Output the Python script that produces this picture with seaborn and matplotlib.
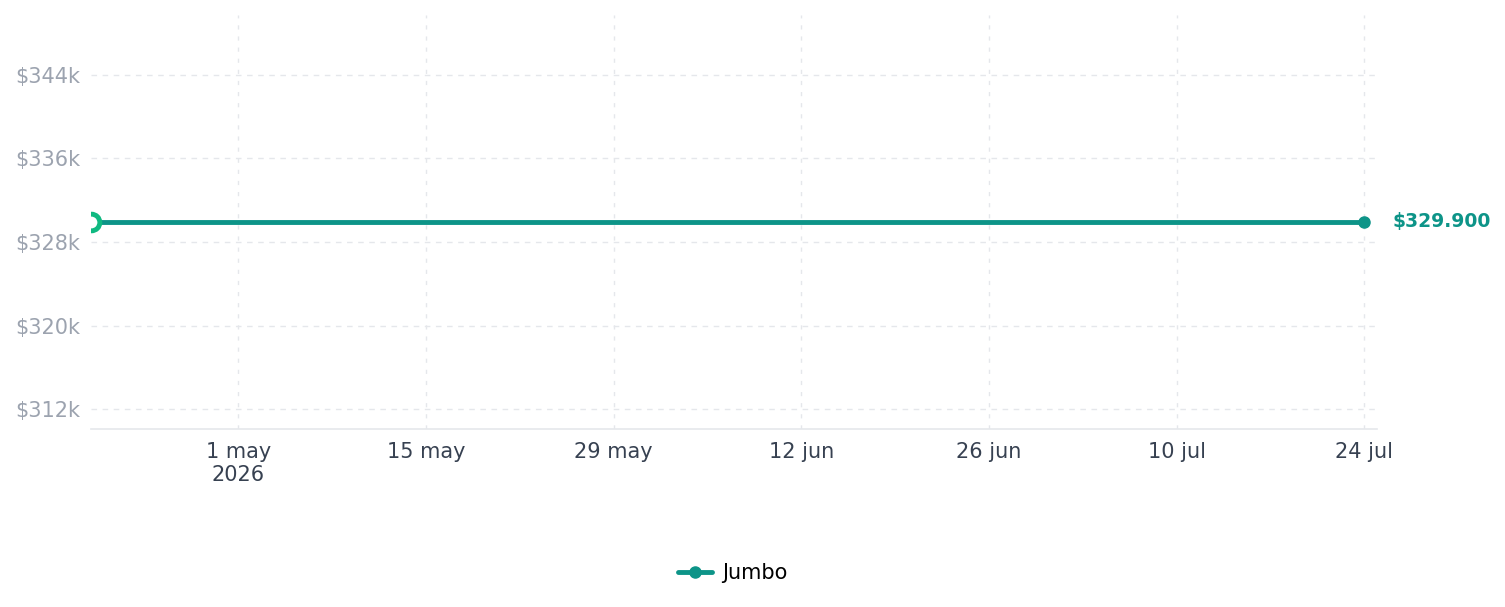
import matplotlib
matplotlib.use("Agg")
import matplotlib.pyplot as plt
import matplotlib.dates as mdates
from matplotlib.lines import Line2D
import seaborn as sns
import pandas as pd
import numpy as np

dates = ["2026-04-20", "2026-07-24"]
prices = [329900, 329900]
series_name = "Jumbo"
end_label = "$329.900"
tick_dates = ["2026-05-01", "2026-05-15", "2026-05-29", "2026-06-12", "2026-06-26", "2026-07-10", "2026-07-24"]
tick_labels = ["1 may\n2026", "15 may", "29 may", "12 jun", "26 jun", "10 jul", "24 jul"]
y_ticks = [312000, 320000, 328000, 336000, 344000]
y_tick_labels = ["$312k", "$320k", "$328k", "$336k", "$344k"]

df = pd.DataFrame({"date": pd.to_datetime(dates), "price": prices, "series": series_name})

sns.set_theme(style="white")
plt.rcParams['font.family'] = ['DejaVu Sans']

fig = plt.figure(figsize=(15.05, 6.07), dpi=100)
ax = fig.add_axes([91/1505, 1-429/607, (1377-91)/1505, (429-15)/607])

line_color = "#0d9488"
sns.lineplot(data=df, x="date", y="price", ax=ax, color=line_color, linewidth=3.5, legend=False, zorder=3)

# end point marker
ax.plot(df["date"].iloc[-1], df["price"].iloc[-1], marker="o", markersize=8, color=line_color, zorder=4, clip_on=False)
# start point hollow marker
ax.plot(df["date"].iloc[0], df["price"].iloc[0], marker="o", markersize=12, markerfacecolor="white",
        markeredgecolor="#10b981", markeredgewidth=3.5, zorder=5, clip_on=True)

ax.annotate(end_label, xy=(df["date"].iloc[-1], df["price"].iloc[-1]), xytext=(20, 0),
            textcoords="offset points", va="center", ha="left", fontsize=13.5, fontweight="bold",
            color=line_color, annotation_clip=False)

v = prices[0]
ax.set_ylim(v * 0.94, v * 1.06)
ax.set_xlim(pd.Timestamp("2026-04-20"), pd.Timestamp("2026-07-24") + pd.Timedelta(days=0.95))

ax.set_yticks(y_ticks)
ax.set_yticklabels(y_tick_labels)
ax.set_xticks(pd.to_datetime(tick_dates))
ax.set_xticklabels(tick_labels)

ax.tick_params(axis="y", length=0, pad=8, labelsize=15, labelcolor="#9ca3af")
ax.tick_params(axis="x", length=0, pad=9, labelsize=15, labelcolor="#374151")

ax.grid(axis="y", color="#e5e7eb", linestyle=(0, (4, 4)), linewidth=1)
ax.grid(axis="x", color="#e5e7eb", linestyle=(0, (3, 5)), linewidth=1)

for s in ["top", "right", "left"]:
    ax.spines[s].set_visible(False)
ax.spines["bottom"].set_color("#e5e7eb")
ax.spines["bottom"].set_linewidth(1.2)
ax.set_xlabel("")
ax.set_ylabel("")

handle = Line2D([], [], color=line_color, linewidth=3.5, marker="o", markersize=8)
leg = fig.legend([handle], [series_name], loc="center", bbox_to_anchor=(733/1505, 1-573/607), frameon=False,
                 fontsize=15, handlelength=1.6, handletextpad=0.5)
for t in leg.get_texts():
    t.set_color("black")

fig.savefig("out.png", dpi=100)
